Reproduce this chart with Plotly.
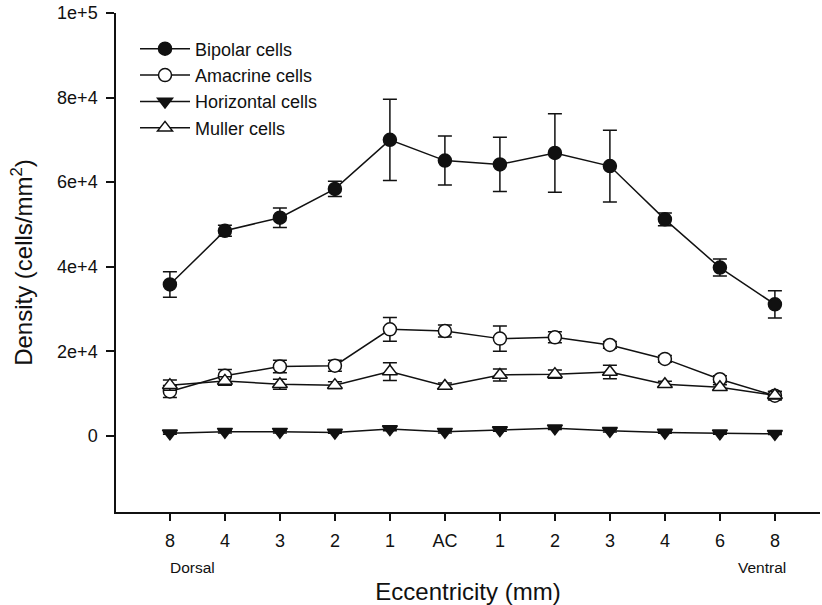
import plotly.graph_objects as go

positions = list(range(12))
tick_labels = ["8", "4", "3", "2", "1", "AC", "1", "2", "3", "4", "6", "8"]

bipolar = [35800, 48500, 51600, 58400, 70000, 65100, 64200, 66900, 63800, 51200, 39800, 31100]
bipolar_err = [3000, 1300, 2300, 1800, 9600, 5800, 6400, 9300, 8500, 1500, 2000, 3200]

amacrine = [10500, 14200, 16400, 16600, 25200, 24800, 23000, 23300, 21500, 18200, 13400, 9500]
amacrine_err = [1400, 1500, 1500, 1300, 2800, 1400, 3000, 1300, 800, 800, 800, 1000]

horizontal = [600, 1000, 1000, 800, 1600, 1000, 1400, 1800, 1200, 800, 600, 500]
horizontal_err = [200, 300, 300, 200, 400, 300, 300, 300, 300, 200, 200, 200]

muller = [12000, 13000, 12200, 12000, 15200, 11800, 14400, 14600, 15100, 12200, 11500, 9600]
muller_err = [1200, 1000, 1200, 800, 2100, 700, 1400, 1000, 1600, 700, 600, 900]

y_tick_vals = [0, 20000, 40000, 60000, 80000, 100000]
y_tick_text = ["0", "2e+4", "4e+4", "6e+4", "8e+4", "1e+5"]

BLACK = "#111111"

def err(arr):
    return dict(type="data", array=arr, visible=True, color=BLACK, thickness=1.5, width=7)

fig = go.Figure()
fig.add_trace(go.Scatter(x=positions, y=bipolar, error_y=err(bipolar_err), mode="lines+markers",
                         name="Bipolar cells", line=dict(color=BLACK, width=1.5),
                         marker=dict(symbol="circle", size=13, color=BLACK, line=dict(color=BLACK, width=1.5))))
fig.add_trace(go.Scatter(x=positions, y=amacrine, error_y=err(amacrine_err), mode="lines+markers",
                         name="Amacrine cells", line=dict(color=BLACK, width=1.5),
                         marker=dict(symbol="circle", size=13, color="white", line=dict(color=BLACK, width=1.5))))
fig.add_trace(go.Scatter(x=positions, y=horizontal, error_y=err(horizontal_err), mode="lines+markers",
                         name="Horizontal cells", line=dict(color=BLACK, width=1.5),
                         marker=dict(symbol="triangle-down", size=13, color=BLACK, line=dict(color=BLACK, width=1.5))))
fig.add_trace(go.Scatter(x=positions, y=muller, error_y=err(muller_err), mode="lines+markers",
                         name="Muller cells", line=dict(color=BLACK, width=1.5),
                         marker=dict(symbol="triangle-up", size=13, color="white", line=dict(color=BLACK, width=1.5))))

fig.update_layout(
    width=822, height=605,
    margin=dict(l=116, r=2, t=13, b=93),
    plot_bgcolor="white", paper_bgcolor="white",
    font=dict(family="Liberation Sans, Arial, sans-serif", color=BLACK, size=18),
    showlegend=True,
    legend=dict(x=0.027, y=0.965, xanchor="left", yanchor="top", bgcolor="rgba(0,0,0,0)",
                font=dict(size=18), tracegroupgap=0, itemwidth=50),
    xaxis=dict(range=[-0.98, 11.82], tickvals=positions, ticktext=tick_labels,
               showgrid=False, zeroline=False, showline=True, linecolor=BLACK, linewidth=1.5,
               ticks="outside", ticklen=7, tickwidth=1.5, tickcolor=BLACK,
               tickfont=dict(size=18), ticklabelstandoff=5, automargin=False,
               ticklabeloverflow="allow",
               title=dict(text="Eccentricity (mm)", font=dict(size=24), standoff=34)),
    yaxis=dict(range=[-18000, 100000], tickvals=y_tick_vals, ticktext=y_tick_text,
               showgrid=False, zeroline=False, showline=True, linecolor=BLACK, linewidth=1.5,
               ticks="outside", ticklen=8, tickwidth=1.5, tickcolor=BLACK,
               tickfont=dict(size=18), ticklabelstandoff=5, automargin=False,
               ticklabeloverflow="allow",
               title=dict(text="Density (cells/mm<sup>2</sup>)", font=dict(size=24), standoff=18)),
    annotations=[
        dict(text="Dorsal", xref="paper", yref="paper", x=0.0739, y=-0.112, xanchor="left",
             yanchor="middle", showarrow=False, font=dict(size=15.5)),
        dict(text="Ventral", xref="paper", yref="paper", x=0.8807, y=-0.112, xanchor="left",
             yanchor="middle", showarrow=False, font=dict(size=15.5)),
    ],
)

fig.write_html("out.html", config={"displayModeBar": False},
               post_script="document.body.style.margin='0px';")
